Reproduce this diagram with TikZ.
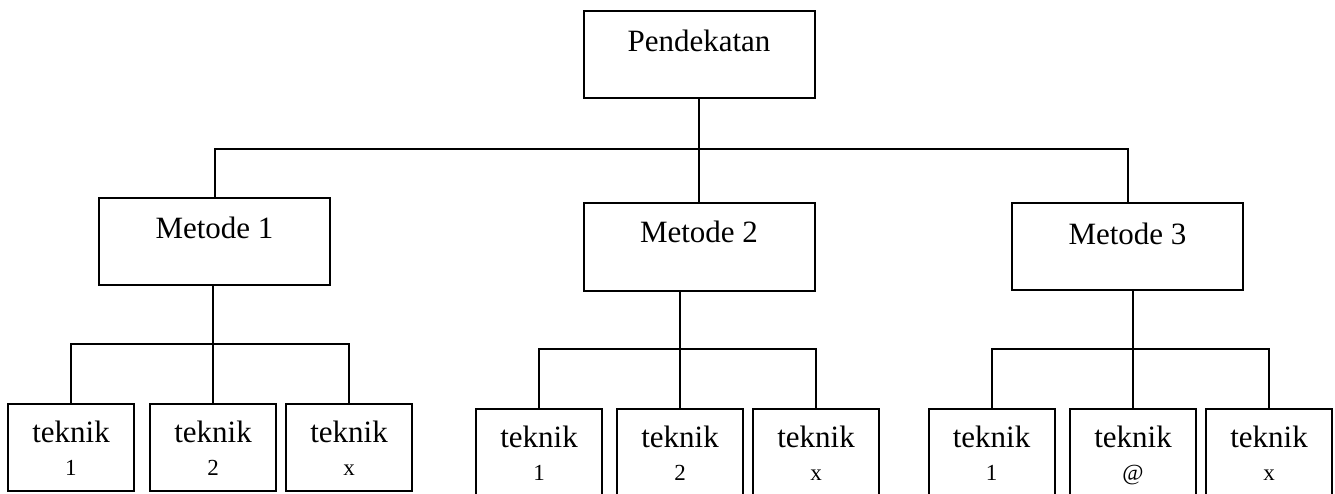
\documentclass[tikz,border=0pt]{standalone}
\usepackage{fontspec}
\setmainfont{Liberation Serif}

\newcommand{\nomor}[1]{{\fontsize{23}{25}\selectfont #1}}

\begin{document}
\begin{tikzpicture}[x = 1pt, y = -1pt, line width = 2pt,
		kotak/.style = {draw, inner sep = 0pt, minimum width = 231pt, text height = 41pt, text depth = 46pt, font = \fontsize{31}{33}\selectfont},
		teknik/.style = {draw, inner sep = 0pt, minimum width = 126pt, align = center, text height = 71pt, text depth = 16pt, font = \fontsize{31}{33}\selectfont}]
		\clip (0, 0) rectangle (1335, 494);

		% pendekatan dan metode
		\node [kotak] (top) at (699, 54.5) {Pendekatan};
		\node [kotak] (m1) at (214.5, 241.5) {Metode 1};
		\node [kotak, text height = 40pt, text depth = 48pt] (m2) at (699, 247) {Metode 2};
		\node [kotak] (m3) at (1127.5, 246.5) {Metode 3};

		% teknik
		\node [teknik] (t11) at (71, 447.5) {teknik\\\nomor{1}};
		\node [teknik] (t12) at (213, 447.5) {teknik\\\nomor{2}};
		\node [teknik] (t13) at (349, 447.5) {teknik\\\nomor{x}};
		\node [teknik] (t21) at (539, 452.5) {teknik\\\nomor{1}};
		\node [teknik] (t22) at (680, 452.5) {teknik\\\nomor{2}};
		\node [teknik] (t23) at (816, 452.5) {teknik\\\nomor{x}};
		\node [teknik] (t31) at (991.5, 452.5) {teknik\\\nomor{1}};
		\node [teknik] (t32) at (1133, 452.5) {teknik\\\nomor{@}};
		\node [teknik] (t33) at (1269, 452.5) {teknik\\\nomor{x}};

		% garis
		\coordinate (bus0) at (0, 149);
		\coordinate (bus1) at (0, 344);
		\coordinate (bus2) at (0, 349);
		\draw (top.south) -- (top.south |- bus0);
		\draw (m1.north) |- (m3.north |- bus0) -- (m3.north);
		\draw (m2.north |- bus0) -- (m2.north);

		\draw (m1.south -| t12.north) -- (t12.north);
		\draw (t11.north) |- (t13.north |- bus1) -- (t13.north);
		\draw (m2.south -| t22.north) -- (t22.north);
		\draw (t21.north) |- (t23.north |- bus2) -- (t23.north);
		\draw (m3.south -| t32.north) -- (t32.north);
		\draw (t31.north) |- (t33.north |- bus2) -- (t33.north);
	\end{tikzpicture}
\end{document}
